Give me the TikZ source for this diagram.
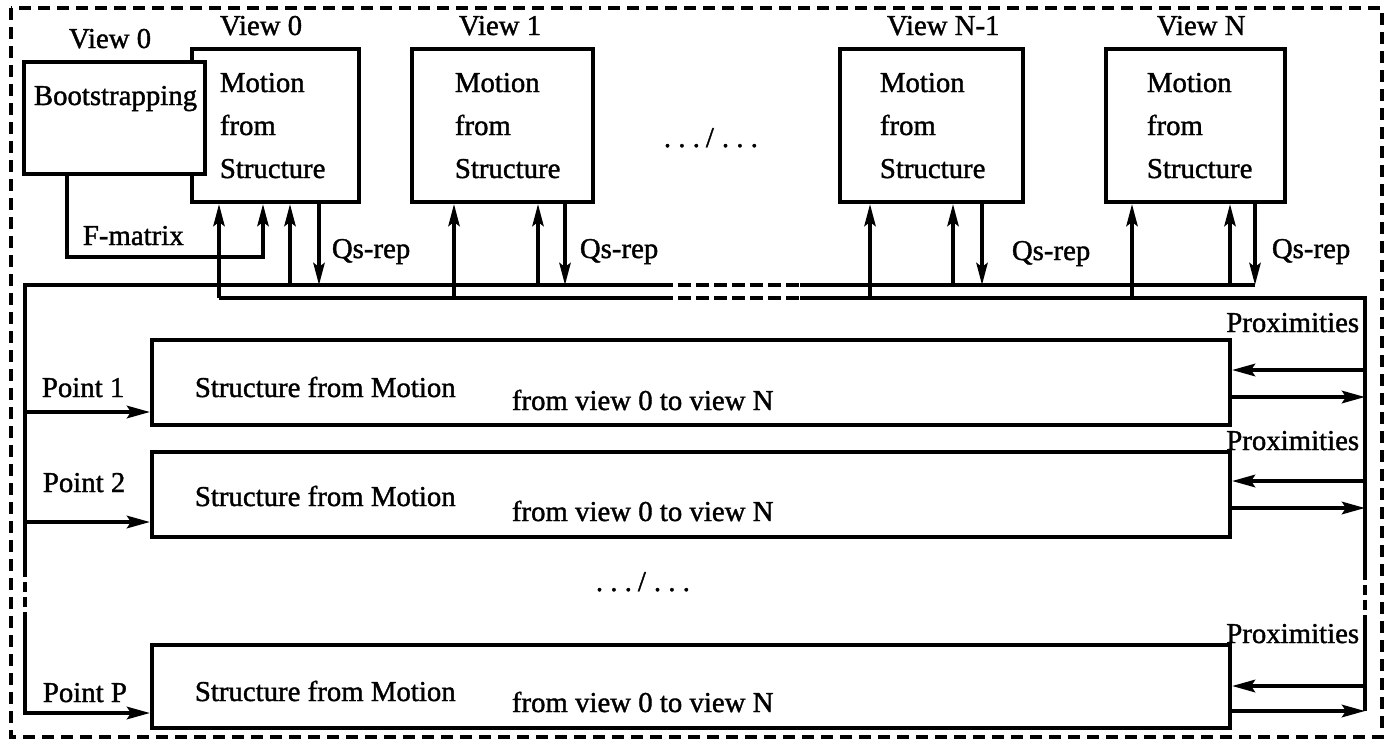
\documentclass[tikz,border=0pt]{standalone}
\usepackage{fontspec}
\setmainfont{Liberation Serif}[BoldFont=Liberation Serif, BoldFeatures={FakeBold=1.3}]
\usetikzlibrary{arrows.meta}
\newcommand{\mydots}{.\kern3.6pt.\kern3.6pt.\kern3pt/\kern4pt.\kern3.6pt.\kern3.6pt.}
\begin{document}
\begin{tikzpicture}[x=0.5pt,y=-0.5pt,
  line width=1.9pt,
  box/.style={draw, line width=2pt, inner sep=0pt},
  lbl/.style={anchor=base west, inner sep=0pt, font=\fontsize{14.4}{17}\selectfont\bfseries},
  varr/.style={-{Stealth[length=11pt,width=5.6pt,inset=2pt]}},
  harr/.style={-{Stealth[length=11.5pt,width=6.2pt,inset=2pt]}},
  busdash/.style={dash pattern=on 6.5pt off 2.5pt},
  sidedash/.style={dash pattern=on 5pt off 2.5pt},
  outerdash/.style={dash pattern=on 6pt off 3.5pt, line width=1.8pt}]
\useasboundingbox (0,0) rectangle (1390,746);
\draw[outerdash] (11,8) rectangle (1382,737);

% boxes
\node[box, minimum width=83.5pt, minimum height=76.5pt] (mfs0) at (275.5,125.5) {};
\node[box, fill=white, minimum width=90.5pt, minimum height=56pt] (boot) at (114.5,118) {};
\node[box, minimum width=90.5pt, minimum height=76.5pt] (mfs1) at (502.5,125.5) {};
\node[box, minimum width=91.5pt, minimum height=76.5pt] (mfsA) at (931.5,125.5) {};
\node[box, minimum width=89.5pt, minimum height=76.5pt] (mfsB) at (1195.5,125.5) {};
\node[box, minimum width=539pt, minimum height=42.5pt] (sfm1) at (691,382.5) {};
\node[box, minimum width=539pt, minimum height=42.5pt] (sfm2) at (691,494.5) {};
\node[box, minimum width=539pt, minimum height=41.5pt] (sfmP) at (691,686.5) {};

% bus coordinates
\coordinate (Atl) at (25,285);
\coordinate (Ae) at (1255,285);
\coordinate (Bs) at (219,298);
\coordinate (Btr) at (1365,298);
\coordinate (ga1) at (660,285);
\coordinate (ga2) at (800,285);
\coordinate (gb1) at (660,298);
\coordinate (gb2) at (800,298);
\coordinate (Ld1) at (25,567);
\coordinate (Ld2) at (25,617);
\coordinate (Lb) at (25,713);
\coordinate (Rd1) at (1365,570);
\coordinate (Rd2) at (1365,617);
\coordinate (Rb) at (1365,711);

% bus A (upper) with left side
\draw (Ld1) -- (Atl) -- (ga1);
\draw[busdash] (ga1) -- (ga2);
\draw (ga2) -- (Ae);
% bus B (lower) with right side
\draw (Bs) -- (gb1);
\draw[busdash] (gb1) -- (gb2);
\draw (gb2) -- (Btr) -- (Rd1);
\draw[sidedash] (Ld1) -- (Ld2);
\draw[sidedash] (Rd1) -- (Rd2);
\draw (Rd2) -- (Rb);

% view 0
\draw[varr] (Bs) -- (Bs |- mfs0.south);
\draw[varr] (67,0 |- boot.south) -- (67,257) -- (263,257) -- (263,0 |- mfs0.south);
\draw[varr] (290,0 |- Atl) -- (290,0 |- mfs0.south);
\draw[varr] (319,0 |- mfs0.south) -- (319,0 |- Atl);
% view 1
\draw[varr] (454,0 |- Bs) -- (454,0 |- mfs1.south);
\draw[varr] (538,0 |- Atl) -- (538,0 |- mfs1.south);
\draw[varr] (565,0 |- mfs1.south) -- (565,0 |- Atl);
% view N-1
\draw[varr] (870,0 |- Bs) -- (870,0 |- mfsA.south);
\draw[varr] (953,0 |- Atl) -- (953,0 |- mfsA.south);
\draw[varr] (982,0 |- mfsA.south) -- (982,0 |- Atl);
% view N
\draw[varr] (1132,0 |- Bs) -- (1132,0 |- mfsB.south);
\draw[varr] (1230,0 |- Atl) -- (1230,0 |- mfsB.south);
\draw[varr] (Ae |- mfsB.south) -- (Ae);

% points
\draw[harr] (25,412) -- (sfm1.west |- 0,412);
\draw[harr] (25,522) -- (sfm2.west |- 0,522);
\draw[harr] (Ld2) -- (Lb) -- (Lb -| sfmP.west);

% proximities
\draw[harr] (Btr |- 0,370) -- (sfm1.east |- 0,370);
\draw[harr] (sfm1.east |- 0,397) -- (Btr |- 0,397);
\draw[harr] (Btr |- 0,481) -- (sfm2.east |- 0,481);
\draw[harr] (sfm2.east |- 0,508) -- (Btr |- 0,508);
\draw[harr] (Btr |- 0,686) -- (sfmP.east |- 0,686);
\draw[harr] (sfmP.east |- Rb) -- (Rb);

% labels
\node[lbl] (tvb) at (67,48) {View 0};
\node[lbl] (tv0) at (218,35) {View 0};
\node[lbl] (tv1) at (457,35) {View 1};
\node[lbl] (tvA) at (885,35) {View N-1};
\node[lbl] (tvB) at (1155,35) {View N};
\node[lbl] (tboot) at (32,105) {Bootstrapping};
\foreach \n/\x in {0/218, 1/453, A/878, B/1145} {
  \node[lbl] (m\n) at (\x,92) {Motion};
  \node[lbl] (f\n) at (\x,135) {from};
  \node[lbl] (s\n) at (\x,178) {Structure};
}
\node[lbl] (tfm) at (81,245) {F-matrix};
\node[lbl] (q0) at (330,258) {Qs-rep};
\node[lbl] (q1) at (578,258) {Qs-rep};
\node[lbl] (qA) at (1010,260) {Qs-rep};
\node[lbl] (qB) at (1270,258) {Qs-rep};
\node[lbl] (dots1) at (662,147) {\mydots};
\node[lbl] (dots2) at (594,591) {\mydots};
\node[lbl] (pt1) at (40,397) {Point 1};
\node[lbl] (pt2) at (41,492) {Point 2};
\node[lbl] (ptP) at (41,702) {Point P};
\node[lbl] (sa1) at (193,397) {Structure from Motion};
\node[lbl] (sa2) at (193,506) {Structure from Motion};
\node[lbl] (saP) at (193,701) {Structure from Motion};
\node[lbl] (fv1) at (510,410) {from view 0 to view N};
\node[lbl] (fv2) at (510,521) {from view 0 to view N};
\node[lbl] (fvP) at (510,712) {from view 0 to view N};
\node[lbl, anchor=base east] (pr1) at (1361,332) {Proximities};
\node[lbl, anchor=base east] (pr2) at (1361,450) {Proximities};
\node[lbl, anchor=base east] (prP) at (1361,643) {Proximities};
\end{tikzpicture}
\end{document}
